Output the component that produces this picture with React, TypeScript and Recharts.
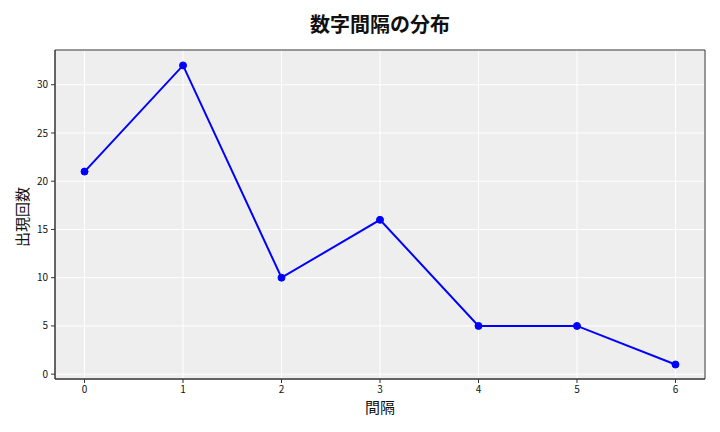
import { LineChart, Line, XAxis, YAxis, CartesianGrid, ReferenceArea } from 'recharts';

const intervals = [0, 1, 2, 3, 4, 5, 6];
const counts = [21, 32, 10, 16, 5, 5, 1];
const xTicks = [0, 1, 2, 3, 4, 5, 6];
const yTicks = [0, 5, 10, 15, 20, 25, 30];

const data = intervals.map((v, i) => ({ gap: v, count: counts[i] }));

const FONT = '"Noto Sans CJK JP", "DejaVu Sans", sans-serif';
const X_DOMAIN: [number, number] = [-0.3, 6.3];
const Y_DOMAIN: [number, number] = [-0.5, 33.6];

export default function App() {
    return (
        <div style={{ position: 'absolute', left: 0, top: 0, width: 720, height: 432, background: '#fff', fontFamily: FONT }}>
            <div
                style={{
                    position: 'absolute',
                    left: 55,
                    width: 650,
                    top: 10,
                    textAlign: 'center',
                    fontSize: 20,
                    fontWeight: 'bold',
                    lineHeight: '28px',
                    color: '#111',
                }}
            >
                数字間隔の分布
            </div>
            <div
                style={{
                    position: 'absolute',
                    left: 55,
                    width: 650,
                    top: 396,
                    textAlign: 'center',
                    fontSize: 15,
                    lineHeight: '22px',
                    color: '#111',
                }}
            >
                間隔
            </div>
            <div
                style={{
                    position: 'absolute',
                    left: 22,
                    top: 217,
                    transform: 'translate(-50%, -50%) rotate(-90deg)',
                    fontSize: 15,
                    lineHeight: '20px',
                    whiteSpace: 'nowrap',
                    color: '#111',
                }}
            >
                出現回数
            </div>
            <LineChart
                width={720}
                height={432}
                data={data}
                margin={{ top: 50, right: 15, bottom: 0, left: 0 }}
                style={{ position: 'absolute', left: 0, top: 0 }}
            >
                <CartesianGrid fill="#eeeeee" stroke="#ffffff" strokeWidth={1} />
                <XAxis
                    dataKey="gap"
                    type="number"
                    domain={X_DOMAIN}
                    ticks={xTicks}
                    allowDataOverflow
                    height={53}
                    tickSize={4}
                    tickMargin={3}
                    tick={{ fontSize: 10, fill: '#111', fontFamily: FONT }}
                    tickLine={{ stroke: '#333' }}
                    axisLine={{ stroke: '#333' }}
                />
                <YAxis
                    type="number"
                    domain={Y_DOMAIN}
                    ticks={yTicks}
                    allowDataOverflow
                    width={55}
                    tickSize={4}
                    tickMargin={3}
                    tick={{ fontSize: 10, fill: '#111', fontFamily: FONT }}
                    tickLine={{ stroke: '#333' }}
                    axisLine={{ stroke: '#333' }}
                />
                <ReferenceArea
                    x1={X_DOMAIN[0]}
                    x2={X_DOMAIN[1]}
                    y1={Y_DOMAIN[0]}
                    y2={Y_DOMAIN[1]}
                    fill="none"
                    stroke="#333"
                    strokeWidth={1}
                />
                <Line
                    type="linear"
                    dataKey="count"
                    stroke="#0000ff"
                    strokeWidth={2}
                    dot={{ r: 3.5, fill: '#0000ff', stroke: '#0000ff', strokeWidth: 1 }}
                    activeDot={false}
                    isAnimationActive={false}
                />
            </LineChart>
        </div>
    );
}
